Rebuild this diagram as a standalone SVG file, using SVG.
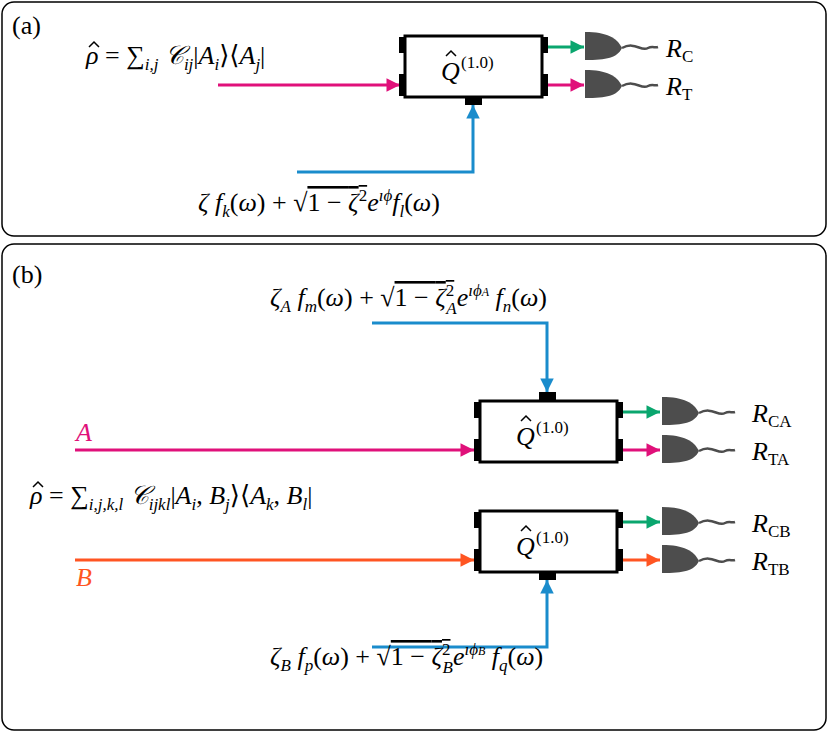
<svg xmlns="http://www.w3.org/2000/svg" width="829" height="734" viewBox="0 0 829 734">
<style>
.frame{fill:#fff;stroke:#000;stroke-width:1.5}
.box{fill:#fff;stroke:#000;stroke-width:3}
.port{fill:#000}
.det{fill:#4d4d4d}
.tail{fill:none;stroke:#4d4d4d;stroke-width:2.5}
text{font-family:"Liberation Serif","DejaVu Serif","Times New Roman",serif;font-size:26px;fill:#000}
.i{font-style:italic}
.s{font-size:17px}
.hat{fill:none;stroke:#000;stroke-width:1.5}
.mg{stroke:#e0107a;stroke-width:3;fill:none}
.gr{stroke:#0aa66e;stroke-width:3;fill:none}
.bl{stroke:#1a8ccc;stroke-width:3;fill:none}
.or{stroke:#ff5522;stroke-width:3;fill:none}
</style>
<defs>
<marker id="am" viewBox="0 0 10 10" refX="10" refY="5" markerWidth="5" markerHeight="4.5" orient="auto"><path d="M0,0L10,5L0,10z" fill="#e0107a"/></marker>
<marker id="ag" viewBox="0 0 10 10" refX="10" refY="5" markerWidth="5" markerHeight="4.5" orient="auto"><path d="M0,0L10,5L0,10z" fill="#0aa66e"/></marker>
<marker id="ab" viewBox="0 0 10 10" refX="10" refY="5" markerWidth="5" markerHeight="4.5" orient="auto"><path d="M0,0L10,5L0,10z" fill="#1a8ccc"/></marker>
<marker id="ao" viewBox="0 0 10 10" refX="10" refY="5" markerWidth="5" markerHeight="4.5" orient="auto"><path d="M0,0L10,5L0,10z" fill="#ff5522"/></marker>
<g id="detector"><path class="det" d="M0,0 C22,0 32,6 37,16 C32,26 22,28 0,28z"/><path class="tail" d="M37,16 C50,9 56,20 63,16 C67,14 70,16 73,15"/></g>
<g id="qbox">
<rect class="box" x="0" y="0" width="137" height="61"/>
<rect class="port" x="-6" y="1" width="7" height="16"/>
<rect class="port" x="-6" y="38" width="7" height="22"/>
<rect class="port" x="136" y="1" width="7" height="16"/>
<rect class="port" x="136" y="38" width="7" height="22"/>
<text x="36" y="44" class="i">Q</text><path class="hat" d="M41,20L46,15L51,20"/>
<text x="56" y="32" class="s">(1.0)</text>
</g>
</defs>
<rect class="frame" x="2" y="2" width="824" height="234" rx="12"/>
<rect class="frame" x="2" y="244" width="824" height="486" rx="12"/>
<text x="12" y="34">(a)</text>
<text x="12" y="283">(b)</text>

<g id="connectors">
<path class="mg" d="M218,85H400" marker-end="url(#am)"/>
<path class="bl" d="M297,172H473V105" marker-end="url(#ab)"/>
<path class="gr" d="M547,47H584" marker-end="url(#ag)"/>
<path class="mg" d="M547,85H584" marker-end="url(#am)"/>
<path class="mg" d="M75,450H474" marker-end="url(#am)"/>
<path class="or" d="M75,560H474" marker-end="url(#ao)"/>
<path class="bl" d="M372,323H547V392" marker-end="url(#ab)"/>
<path class="bl" d="M372,647H547V580" marker-end="url(#ab)"/>
<path class="gr" d="M623,412H660" marker-end="url(#ag)"/>
<path class="mg" d="M623,450H660" marker-end="url(#am)"/>
<path class="gr" d="M623,522H660" marker-end="url(#ag)"/>
<path class="or" d="M623,560H660" marker-end="url(#ao)"/>
</g>

<g id="qa"><use href="#qbox" x="405" y="36"/><rect class="port" x="465" y="96" width="17" height="9"/></g>
<g id="qA"><use href="#qbox" x="480" y="401"/><rect class="port" x="539" y="392" width="17" height="9"/></g>
<g id="qB"><use href="#qbox" x="480" y="511"/><rect class="port" x="539" y="571" width="17" height="9"/></g>

<g id="detC"><use href="#detector" x="585" y="32"/><text class="i" x="666" y="57">R<tspan class="s" font-style="normal" dy="5">C</tspan></text></g>
<g id="detT"><use href="#detector" x="585" y="70"/><text class="i" x="666" y="95">R<tspan class="s" font-style="normal" dy="5">T</tspan></text></g>
<g id="detCA"><use href="#detector" x="662" y="397"/><text class="i" x="752" y="422">R<tspan class="s" font-style="normal" dy="5">CA</tspan></text></g>
<g id="detTA"><use href="#detector" x="662" y="435"/><text class="i" x="752" y="460">R<tspan class="s" font-style="normal" dy="5">TA</tspan></text></g>
<g id="detCB"><use href="#detector" x="662" y="507"/><text class="i" x="752" y="532">R<tspan class="s" font-style="normal" dy="5">CB</tspan></text></g>
<g id="detTB"><use href="#detector" x="662" y="545"/><text class="i" x="752" y="570">R<tspan class="s" font-style="normal" dy="5">TB</tspan></text></g>

<path class="hat" d="M89,47L94,42L99,47"/>
<text x="86" y="64"><tspan class="i">ρ</tspan> = ∑<tspan class="s i" dy="6">i,j</tspan><tspan dy="-6" class="i"> 𝒞</tspan><tspan class="s i" dy="6">ij</tspan><tspan dy="-6">|</tspan><tspan class="i">A</tspan><tspan class="s i" dy="6">i</tspan><tspan dy="-6">⟩⟨</tspan><tspan class="i">A</tspan><tspan class="s i" dy="6">j</tspan><tspan dy="-6">|</tspan></text>
<text x="198" y="211"><tspan class="i">ζ f</tspan><tspan class="s i" dy="6">k</tspan><tspan dy="-6">(</tspan><tspan class="i">ω</tspan>) + √<tspan text-decoration="overline">1 − <tspan class="i">ζ</tspan><tspan class="s" dy="-10">2</tspan></tspan><tspan class="i" dy="10">e</tspan><tspan class="s i" dy="-10">ıϕ</tspan><tspan class="i" dy="10">f</tspan><tspan class="s i" dy="6">l</tspan><tspan dy="-6">(</tspan><tspan class="i">ω</tspan>)</text>
<text x="270" y="306"><tspan class="i">ζ</tspan><tspan class="s i" dy="6">A</tspan><tspan class="i" dy="-6"> f</tspan><tspan class="s i" dy="6">m</tspan><tspan dy="-6">(</tspan><tspan class="i">ω</tspan>) + √<tspan text-decoration="overline">1 − <tspan class="i">ζ</tspan><tspan class="s" dy="-10">2</tspan></tspan><tspan class="s i" dx="-8" dy="18">A</tspan><tspan class="i" dy="-8">e</tspan><tspan class="s i" dy="-10">ıϕ<tspan style="font-size:12px">A</tspan></tspan><tspan class="i" dy="10"> f</tspan><tspan class="s i" dy="6">n</tspan><tspan dy="-6">(</tspan><tspan class="i">ω</tspan>)</text>
<text x="270" y="665"><tspan class="i">ζ</tspan><tspan class="s i" dy="6">B</tspan><tspan class="i" dy="-6"> f</tspan><tspan class="s i" dy="6">p</tspan><tspan dy="-6">(</tspan><tspan class="i">ω</tspan>) + √<tspan text-decoration="overline">1 − <tspan class="i">ζ</tspan><tspan class="s" dy="-10">2</tspan></tspan><tspan class="s i" dx="-8" dy="18">B</tspan><tspan class="i" dy="-8">e</tspan><tspan class="s i" dy="-10">ıϕ<tspan style="font-size:12px">B</tspan></tspan><tspan class="i" dy="10"> f</tspan><tspan class="s i" dy="6">q</tspan><tspan dy="-6">(</tspan><tspan class="i">ω</tspan>)</text>
<path class="hat" d="M33,487L38,482L43,487"/>
<text x="30" y="504"><tspan class="i">ρ</tspan> = ∑<tspan class="s i" dy="6">i,j,k,l</tspan><tspan dy="-6" class="i"> 𝒞</tspan><tspan class="s i" dy="6">ijkl</tspan><tspan dy="-6">|</tspan><tspan class="i">A</tspan><tspan class="s i" dy="6">i</tspan><tspan dy="-6">, </tspan><tspan class="i">B</tspan><tspan class="s i" dy="6">j</tspan><tspan dy="-6">⟩⟨</tspan><tspan class="i">A</tspan><tspan class="s i" dy="6">k</tspan><tspan dy="-6">, </tspan><tspan class="i">B</tspan><tspan class="s i" dy="6">l</tspan><tspan dy="-6">|</tspan></text>
<text class="i" x="76" y="441" style="fill:#e0107a">A</text>
<text class="i" x="76" y="586" style="fill:#ff5522">B</text>
</svg>
